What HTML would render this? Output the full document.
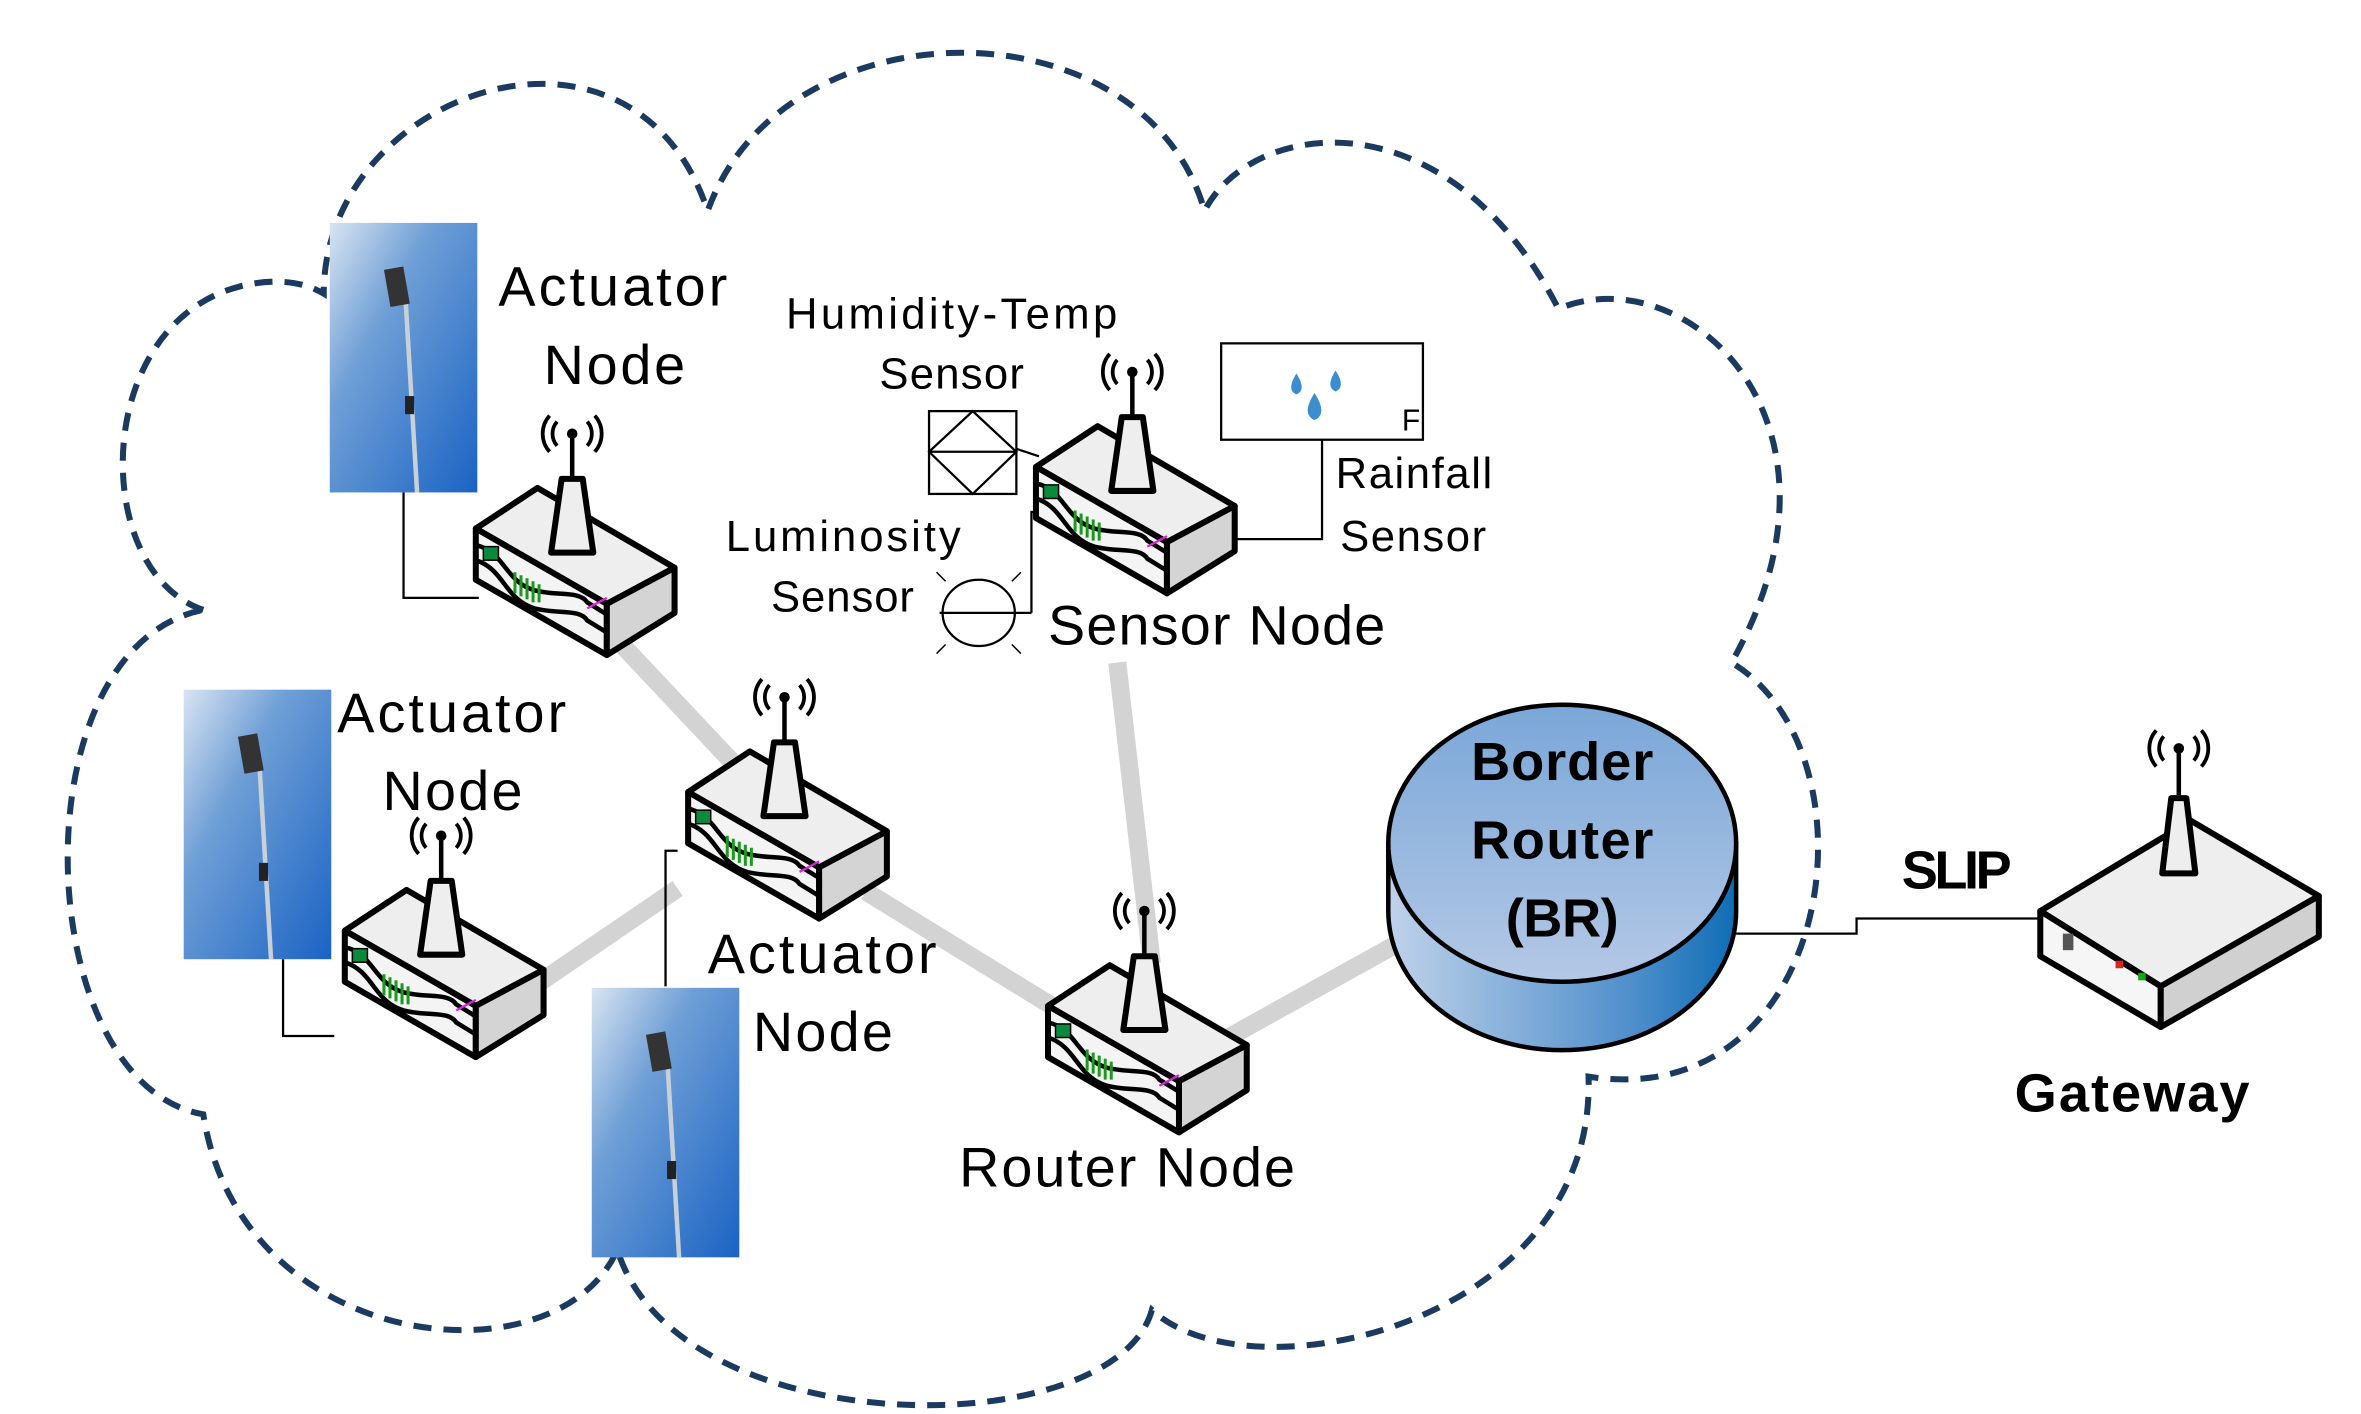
<!DOCTYPE html>
<html><head><meta charset="utf-8"><style>
html,body{margin:0;padding:0;background:#fff;}
svg{display:block;}
text{font-family:"Liberation Sans",sans-serif;fill:#000;}
</style></head><body>
<svg width="2361" height="1414" viewBox="0 0 1568 939" xmlns="http://www.w3.org/2000/svg">
<defs>
<linearGradient id="sky" x1="0" y1="0" x2="1" y2="1">
<stop offset="0" stop-color="#d8e4f2"/><stop offset="0.35" stop-color="#6f9fd6"/><stop offset="1" stop-color="#1a63c4"/>
</linearGradient>
<linearGradient id="brtop" x1="0" y1="0" x2="0" y2="1">
<stop offset="0" stop-color="#7aa7d8"/><stop offset="1" stop-color="#b4c8e6"/>
</linearGradient>
<linearGradient id="brside" x1="0" y1="0" x2="1" y2="0">
<stop offset="0" stop-color="#c0d2ea"/><stop offset="0.7" stop-color="#4f8fcb"/><stop offset="1" stop-color="#0f6db5"/>
</linearGradient>
<g id="router">
<path d="M-10,-8 A12,12 0 0 0 -10,8 M10,-8 A12,12 0 0 1 10,8 M-15,-12 A18,18 0 0 0 -15,12 M15,-12 A18,18 0 0 1 15,12" fill="none" stroke="#000" stroke-width="2.5"/>
<circle cx="0" cy="0" r="3.5" fill="#000"/>
<line x1="0" y1="0" x2="0" y2="30" stroke="#000" stroke-width="3"/>
<polygon points="-64,63 -23,36 68,89 23,113" fill="#eee" stroke="#000" stroke-width="4" stroke-linejoin="round"/>
<polygon points="-64,63 23,113 23,147 -64,97" fill="#f4f4f4" stroke="#000" stroke-width="4" stroke-linejoin="round"/>
<polygon points="23,113 68,89 68,119 23,147" fill="#d4d4d4" stroke="#000" stroke-width="4" stroke-linejoin="round"/>
<path d="M-64,74 C-45,78 -45,98 -25,104 C-10,108 5,104 10,112 L23,120 M-64,84 C-45,90 -45,110 -25,116 C-10,120 5,116 10,124 L23,132" fill="none" stroke="#000" stroke-width="3"/>
<rect x="-59" y="75" width="10" height="9" fill="#0a8a3a" stroke="#000" stroke-width="1"/>
<path d="M-38,92 v14 M-34,94 v14 M-30,96 v14 M-26,98 v14 M-22,100 v12" stroke="#1a9a1a" stroke-width="2"/>
<line x1="10" y1="116" x2="23" y2="109" stroke="#e020e0" stroke-width="1.5"/>
<path d="M-14,79 L-7,30 L7,30 L14,79 Z" fill="#eee" stroke="#000" stroke-width="4" stroke-linejoin="round"/>
</g>
<g id="pole">
<rect x="0" y="0" width="98" height="179" fill="url(#sky)"/>
<line x1="50" y1="45" x2="58" y2="179" stroke="#c8d0d8" stroke-width="3"/>
<rect x="38" y="30" width="13" height="25" fill="#333" transform="rotate(-10 44 42)"/>
<rect x="50" y="115" width="6" height="12" fill="#222"/>
</g>
</defs>

<path d="M135,405 C60,380 60,215 160,190 C180,185 200,186 215,195 C215,60 420,-10 470,140 C520,0 760,0 800,140 C830,80 960,60 1035,205 C1120,170 1240,280 1150,440 C1250,500 1220,740 1055,715 C1060,880 830,930 765,870 C740,960 450,960 410,830 C370,920 160,900 135,740 C20,720 10,430 135,405 Z" fill="none" stroke="#1a3a60" stroke-width="4" stroke-dasharray="12,8"/>

<g stroke="#d3d3d3" stroke-width="12" stroke-linecap="butt">
<line x1="410" y1="425" x2="490" y2="510"/>
<line x1="575" y1="592" x2="705" y2="672"/>
<line x1="340" y1="665" x2="450" y2="590"/>
<line x1="742" y1="440" x2="765" y2="640"/>
<line x1="805" y1="695" x2="940" y2="620"/>
</g>

<g stroke="#000" stroke-width="1.5" fill="none">
<polyline points="268,327 268,397 318,397"/>
<polyline points="188,637 188,688 222,688"/>
<polyline points="442,655 442,565 450,565"/>
<polyline points="675,298 690,303"/>
<polyline points="685,407 685,340 690,340"/>
<polyline points="878,292 878,358 818,358"/>
<polyline points="1153,620 1233,620 1233,610 1355,610"/>
</g>

<use href="#pole" x="219" y="148"/>
<use href="#pole" x="122" y="458"/>
<use href="#pole" x="393" y="656"/>

<use href="#router" x="380" y="288"/>
<use href="#router" x="752" y="247"/>
<use href="#router" x="521" y="463"/>
<use href="#router" x="293" y="555"/>
<use href="#router" x="760" y="605"/>

<g>
<polygon points="1355,605 1455,545 1540,595 1435,655" fill="#eee" stroke="#000" stroke-width="4" stroke-linejoin="round"/>
<polygon points="1355,605 1435,655 1435,682 1355,635" fill="#f6f6f6" stroke="#000" stroke-width="4" stroke-linejoin="round"/>
<polygon points="1435,655 1540,595 1540,622 1435,682" fill="#d0d0d0" stroke="#000" stroke-width="4" stroke-linejoin="round"/>
<rect x="1370" y="620" width="7" height="11" fill="#555"/>
<rect x="1405" y="638" width="5" height="5" fill="#d22"/>
<rect x="1420" y="646" width="5" height="5" fill="#1a1"/>
<path d="M1437,489 A12,12 0 0 0 1437,505 M1457,489 A12,12 0 0 1 1457,505 M1432,485 A18,18 0 0 0 1432,509 M1462,485 A18,18 0 0 1 1462,509" fill="none" stroke="#000" stroke-width="2.5"/>
<circle cx="1447" cy="497" r="3.5" fill="#000"/>
<line x1="1447" y1="497" x2="1447" y2="528" stroke="#000" stroke-width="3"/>
<path d="M1436,580 L1442,530 L1452,530 L1458,580 Z" fill="#eee" stroke="#000" stroke-width="4" stroke-linejoin="round"/>
</g>

<path d="M922,560 L922,605 A115,92 0 0 0 1153,605 L1153,560 Z" fill="url(#brside)" stroke="#000" stroke-width="3"/>
<ellipse cx="1037.5" cy="560" rx="115.5" ry="92" fill="url(#brtop)" stroke="#000" stroke-width="3"/>

<rect x="617" y="273" width="58" height="55" fill="#fff" stroke="#000" stroke-width="1.5"/>
<polygon points="646,273 675,300 646,328 617,300" fill="none" stroke="#000" stroke-width="1.5"/>
<line x1="617" y1="300" x2="675" y2="300" stroke="#000" stroke-width="1.5"/>
<ellipse cx="650" cy="407" rx="24" ry="22" fill="none" stroke="#000" stroke-width="1.5"/>
<line x1="624" y1="407" x2="685" y2="407" stroke="#000" stroke-width="1.5"/>
<path d="M628,386 l-6,-6 M672,386 l6,-6 M628,428 l-6,6 M672,428 l6,6" stroke="#000" stroke-width="1"/>
<rect x="811" y="228" width="134" height="64" fill="#fff" stroke="#000" stroke-width="1.5"/>
<g fill="#3a8ed0">
<path d="M861,248 q-7,11 0,14 q7,-3 0,-14z"/>
<path d="M887,246 q-7,11 0,14 q7,-3 0,-14z"/>
<path d="M873,261 q-9,14 0,18 q9,-4 0,-18z"/>
</g>
<text x="931" y="286" font-size="20">F</text>

<g font-size="37">
<text x="331" y="203" textLength="152">Actuator</text>
<text x="361" y="255" textLength="94">Node</text>
<text x="224" y="486" textLength="152">Actuator</text>
<text x="254" y="538" textLength="93">Node</text>
<text x="470" y="646" textLength="152">Actuator</text>
<text x="500" y="698" textLength="93">Node</text>
<text x="696" y="428" textLength="224">Sensor Node</text>
<text x="637" y="788" textLength="223">Router Node</text>
</g>
<g font-size="29">
<text x="522" y="218" textLength="220">Humidity-Temp</text>
<text x="584" y="258" textLength="96">Sensor</text>
<text x="482" y="366" textLength="156">Luminosity</text>
<text x="512" y="406" textLength="95">Sensor</text>
<text x="887" y="324" textLength="104">Rainfall</text>
<text x="890" y="366" textLength="97">Sensor</text>
</g>
<g font-size="36" font-weight="bold">
<text x="977" y="518" textLength="121">Border</text>
<text x="977" y="570" textLength="121">Router</text>
<text x="1000" y="622" textLength="75">(BR)</text>
<text x="1263" y="590" textLength="73">SLIP</text>
<text x="1338" y="738" textLength="156">Gateway</text>
</g>
</svg>
</body></html>
